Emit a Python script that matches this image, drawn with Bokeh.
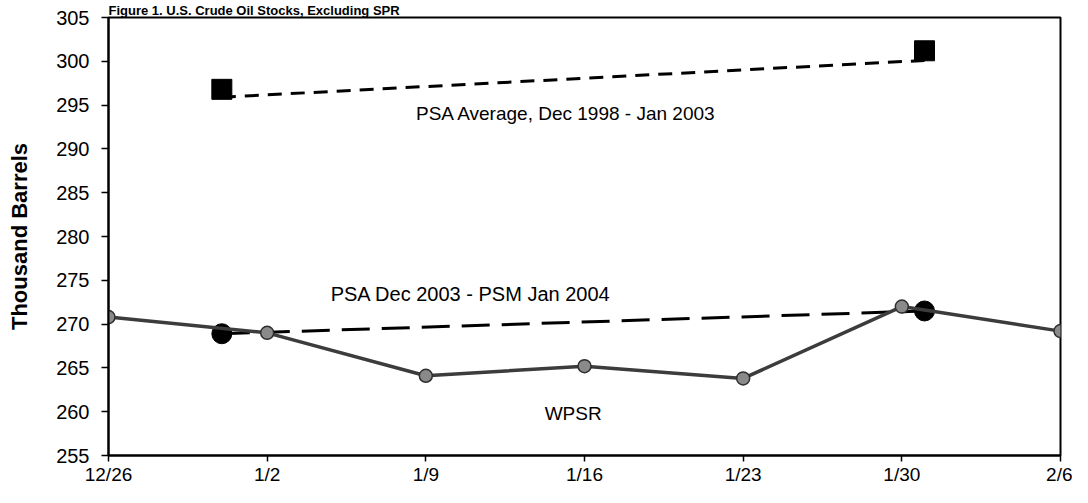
import pandas as pd
from bokeh.plotting import figure
from bokeh.models import Range1d, FixedTicker, Label
from bokeh.embed import file_html
from bokeh.resources import INLINE

# ---- data (thousand barrels) ----
week_dates = ["2003-12-26", "2004-01-02", "2004-01-09", "2004-01-16",
              "2004-01-23", "2004-01-30", "2004-02-06"]
week_labels = ["12/26", "1/2", "1/9", "1/16", "1/23", "1/30", "2/6"]
wpsr = [270.8, 269.0, 264.1, 265.2, 263.8, 272.0, 269.2]

month_end_dates = ["2003-12-31", "2004-01-31"]
psa_psm = [268.9, 271.5]          # PSA Dec 2003 - PSM Jan 2004
psa_avg = [296.8, 301.2]          # PSA Average, Dec 1998 - Jan 2003
psa_avg_line = [295.9, 300.1]     # dashed trend drawn for the average

y_ticks = [255, 260, 265, 270, 275, 280, 285, 290, 295, 300, 305]

start = pd.Timestamp(week_dates[0])
week_x = [(pd.Timestamp(d) - start).days for d in week_dates]
month_x = [(pd.Timestamp(d) - start).days for d in month_end_dates]

FONT = "Liberation Sans"

p = figure(width=1072, height=487, output_backend="svg", toolbar_location=None,
           x_range=Range1d(week_x[0], week_x[-1]), y_range=Range1d(255, 305),
           min_border_left=108, min_border_right=12, min_border_top=8,
           min_border_bottom=26,
           title="Figure 1. U.S. Crude Oil Stocks, Excluding SPR")
p.title.text_font = FONT
p.title.text_font_size = "13px"
p.title.text_font_style = "bold"
p.title.text_color = "black"
p.title.align = "left"
p.title.offset = 0
p.title.standoff = 0

p.background_fill_color = "white"
p.border_fill_color = "white"
p.outline_line_color = "black"
p.outline_line_width = 2
p.xgrid.visible = False
p.ygrid.visible = False

# axes
p.xaxis.ticker = FixedTicker(ticks=week_x)
p.xaxis.major_label_overrides = {x: l for x, l in zip(week_x, week_labels)}
p.yaxis.ticker = FixedTicker(ticks=y_ticks)
for ax in (p.xaxis[0], p.yaxis[0]):
    ax.axis_line_color = "black"
    ax.axis_line_width = 2
    ax.major_tick_line_color = "black"
    ax.major_tick_line_width = 1.5
    ax.major_tick_in = 0
    ax.minor_tick_line_color = None
    ax.major_label_text_font = FONT
    ax.major_label_text_color = "black"
p.xaxis.major_label_text_font_size = "19px"
p.yaxis.major_label_text_font_size = "20px"
p.xaxis.major_tick_out = 6
p.xaxis.major_label_standoff = 2
p.yaxis.major_tick_out = 7
p.yaxis.major_label_standoff = 12
p.yaxis.axis_label = "Thousand Barrels"
p.yaxis.axis_label_text_font = FONT
p.yaxis.axis_label_text_font_size = "22px"
p.yaxis.axis_label_text_font_style = "bold"
p.yaxis.axis_label_text_color = "black"
p.yaxis.axis_label_standoff = 21

# PSA average (dashed) + squares
p.line(month_x, psa_avg_line, line_color="black", line_width=3, line_dash="14 9")
p.scatter(month_x, psa_avg, marker="square", size=20, fill_color="black",
          line_color="black")

# PSA/PSM (dashed) + big circles
p.line(month_x, psa_psm, line_color="black", line_width=3, line_dash="28 12")
p.scatter(month_x, psa_psm, marker="circle", size=20, fill_color="black",
          line_color="black")

# WPSR weekly
p.line(week_x, wpsr, line_color="#3c3c3c", line_width=3.5)
p.scatter(week_x, wpsr, marker="circle", size=13, fill_color="#8a8a8a",
          line_color="#2e2e2e", line_width=1.5)

# annotations
def add_label(x, y, text, align="center", size="19px"):
    p.add_layout(Label(x=x, y=y, text=text, text_align=align,
                       text_baseline="middle", text_font=FONT,
                       text_font_size=size, text_color="black"))

add_label(20.2, 294.0, "PSA Average, Dec 1998 - Jan 2003", size="19px")
add_label(9.8, 273.4, "PSA Dec 2003 - PSM Jan 2004", align="left", size="20px")
add_label(20.5, 259.8, "WPSR", size="19px")

open("out.html", "w").write(file_html(p, INLINE))
